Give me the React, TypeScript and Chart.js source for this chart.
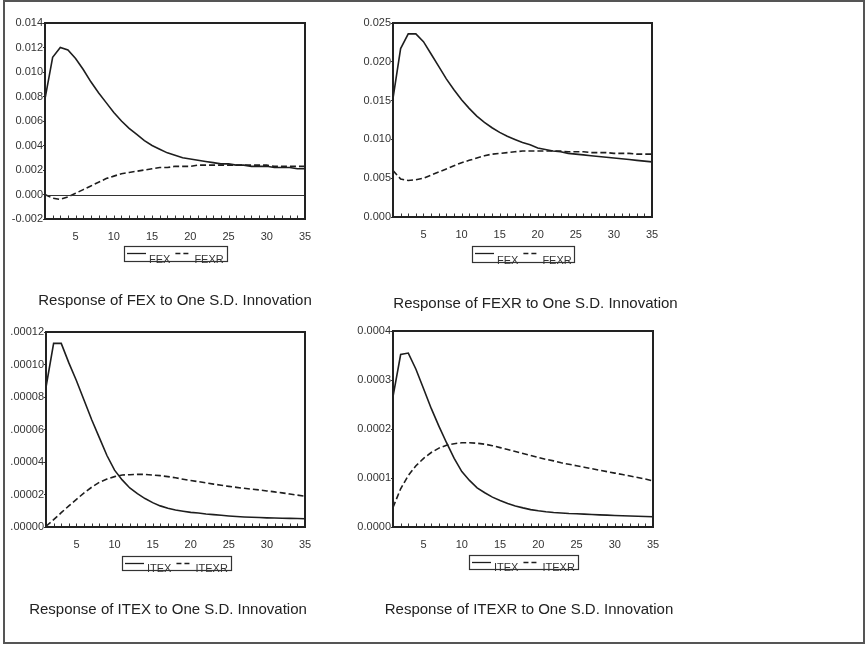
import React, { useEffect, useRef } from "react";
import { Chart, registerables } from "chart.js";

Chart.register(...registerables);

// ---------- data ----------
const periods = [1, 2, 3, 4, 5, 6, 7, 8, 9, 10, 11, 12, 13, 14, 15, 16, 17, 18, 19, 20, 21, 22, 23, 24, 25, 26, 27, 28, 29, 30, 31, 32, 33, 34, 35];
const xTickValues = [5, 10, 15, 20, 25, 30, 35];

// Panel 1: Response of FEX
const fexOnFex = [0.0078, 0.0112, 0.0120, 0.0118, 0.0111, 0.0102, 0.0092, 0.0083, 0.0075, 0.0067, 0.0060, 0.0054, 0.0049, 0.0044, 0.0040, 0.0037, 0.0034, 0.0032, 0.0030, 0.0029, 0.0028, 0.0027, 0.0026, 0.0025, 0.0025, 0.0024, 0.0024, 0.0023, 0.0023, 0.0023, 0.0022, 0.0022, 0.0022, 0.0021, 0.0021];
const fexOnFexr = [0.0000, -0.0003, -0.0004, -0.0002, 0.0001, 0.0004, 0.0007, 0.0010, 0.0013, 0.0015, 0.0017, 0.0018, 0.0019, 0.0020, 0.0021, 0.0022, 0.0022, 0.0023, 0.0023, 0.0023, 0.0024, 0.0024, 0.0024, 0.0024, 0.0024, 0.0024, 0.0024, 0.0024, 0.0024, 0.0024, 0.0023, 0.0023, 0.0023, 0.0023, 0.0023];
const p1YTicks = [-0.002, 0.0, 0.002, 0.004, 0.006, 0.008, 0.010, 0.012, 0.014];
const p1YLabels = ["-0.002", "0.000", "0.002", "0.004", "0.006", "0.008", "0.010", "0.012", "0.014"];

// Panel 2: Response of FEXR
const fexrOnFex = [0.0153, 0.0217, 0.0236, 0.0236, 0.0226, 0.0210, 0.0194, 0.0178, 0.0164, 0.0151, 0.0140, 0.0130, 0.0122, 0.0115, 0.0109, 0.0104, 0.0100, 0.0096, 0.0093, 0.0089, 0.0087, 0.0085, 0.0084, 0.0082, 0.0081, 0.0080, 0.0079, 0.0078, 0.0077, 0.0076, 0.0075, 0.0074, 0.0073, 0.0072, 0.0071];
const fexrOnFexr = [0.0060, 0.0049, 0.0047, 0.0048, 0.0050, 0.0054, 0.0058, 0.0062, 0.0066, 0.0070, 0.0073, 0.0076, 0.0079, 0.0081, 0.0082, 0.0083, 0.0084, 0.0085, 0.0085, 0.0085, 0.0085, 0.0085, 0.0085, 0.0084, 0.0084, 0.0084, 0.0083, 0.0083, 0.0083, 0.0082, 0.0082, 0.0082, 0.0081, 0.0081, 0.0081];
const p2YTicks = [0.0, 0.005, 0.010, 0.015, 0.020, 0.025];
const p2YLabels = ["0.000", "0.005", "0.010", "0.015", "0.020", "0.025"];

// Panel 3: Response of ITEX
const itexOnItex = [0.000086, 0.000113, 0.000113, 0.000101, 0.000090, 0.000078, 0.000066, 0.000055, 0.000044, 0.000035, 0.000029, 0.000024, 0.0000205, 0.0000175, 0.000015, 0.000013, 0.0000115, 0.0000105, 0.0000097, 0.000009, 0.0000086, 0.000008, 0.0000076, 0.0000072, 0.0000068, 0.0000065, 0.0000062, 0.000006, 0.0000058, 0.0000056, 0.0000055, 0.0000054, 0.0000053, 0.0000052, 0.0000051];
const itexOnItexr = [0.0000005, 0.0000045, 0.0000088, 0.000013, 0.000017, 0.000021, 0.0000245, 0.0000275, 0.0000295, 0.000031, 0.000032, 0.0000322, 0.0000324, 0.0000324, 0.000032, 0.0000316, 0.000031, 0.0000303, 0.0000294, 0.0000286, 0.0000279, 0.0000272, 0.0000264, 0.0000257, 0.000025, 0.0000244, 0.0000238, 0.0000233, 0.0000228, 0.0000222, 0.0000216, 0.000021, 0.0000203, 0.0000196, 0.000019];
const p3YTicks = [0.0, 0.00002, 0.00004, 0.00006, 0.00008, 0.0001, 0.00012];
const p3YLabels = [".00000", ".00002", ".00004", ".00006", ".00008", ".00010", ".00012"];

// Panel 4: Response of ITEXR
const itexrOnItex = [0.000266, 0.000352, 0.000355, 0.000322, 0.000282, 0.000242, 0.000206, 0.000172, 0.00014, 0.000113, 0.000095, 0.00008, 0.00007, 0.000061, 0.000054, 0.000048, 0.000043, 0.000039, 0.0000355, 0.000033, 0.000031, 0.0000295, 0.0000285, 0.0000275, 0.000027, 0.0000262, 0.0000255, 0.0000248, 0.0000242, 0.0000236, 0.000023, 0.0000225, 0.000022, 0.0000215, 0.000021];
const itexrOnItexr = [0.00004, 0.000078, 0.000105, 0.000125, 0.00014, 0.000152, 0.000161, 0.000167, 0.00017, 0.000172, 0.000172, 0.000171, 0.000169, 0.000166, 0.000162, 0.000158, 0.000154, 0.00015, 0.000146, 0.000142, 0.000138, 0.000135, 0.000131, 0.000128, 0.000125, 0.000122, 0.000119, 0.000116, 0.000113, 0.00011, 0.000107, 0.000104, 0.000101, 0.000098, 0.000094];
const p4YTicks = [0.0, 0.0001, 0.0002, 0.0003, 0.0004];
const p4YLabels = ["0.0000", "0.0001", "0.0002", "0.0003", "0.0004"];

const seriesNames1 = ["FEX", "FEXR"];
const seriesNames2 = ["ITEX", "ITEXR"];
const titles = [
  "Response of FEX to One S.D. Innovation",
  "Response of FEXR to One S.D. Innovation",
  "Response of ITEX to One S.D. Innovation",
  "Response of ITEXR to One S.D. Innovation",
];

// ---------- layout (page pixels) ----------
const W = 867;
const H = 648;
const X_AXIS_H = 32;
const FONT = "'Liberation Sans', Arial, Helvetica, sans-serif";
const INK = "#1e1e1e";

type Panel = {
  solid: number[];
  dashed: number[];
  names: string[];
  yTicks: number[];
  yLabels: string[];
  title: string;
  area: { l: number; r: number; t: number; b: number };
  legend: { l: number; r: number; t: number; b: number };
  titlePos: { x: number; y: number };
  zeroLine: boolean;
};

const PANELS: Panel[] = [
  {
    solid: fexOnFex, dashed: fexOnFexr, names: seriesNames1, yTicks: p1YTicks, yLabels: p1YLabels, title: titles[0],
    area: { l: 45, r: 305, t: 23, b: 219 }, legend: { l: 124, r: 227, t: 246, b: 261 }, titlePos: { x: 175, y: 300.5 }, zeroLine: true,
  },
  {
    solid: fexrOnFex, dashed: fexrOnFexr, names: seriesNames1, yTicks: p2YTicks, yLabels: p2YLabels, title: titles[1],
    area: { l: 393, r: 652, t: 23, b: 217 }, legend: { l: 472, r: 574, t: 246, b: 262 }, titlePos: { x: 535.5, y: 303.5 }, zeroLine: false,
  },
  {
    solid: itexOnItex, dashed: itexOnItexr, names: seriesNames2, yTicks: p3YTicks, yLabels: p3YLabels, title: titles[2],
    area: { l: 46, r: 305, t: 332, b: 527 }, legend: { l: 122, r: 231, t: 556, b: 570 }, titlePos: { x: 168, y: 609.5 }, zeroLine: false,
  },
  {
    solid: itexrOnItex, dashed: itexrOnItexr, names: seriesNames2, yTicks: p4YTicks, yLabels: p4YLabels, title: titles[3],
    area: { l: 393, r: 653, t: 331, b: 527 }, legend: { l: 469, r: 578, t: 555, b: 569 }, titlePos: { x: 529, y: 609.5 }, zeroLine: false,
  },
];

function makeDecor(p: Panel) {
  return {
    id: "panelDecor",
    afterDatasetsDraw(chart: any) {
      const ctx = chart.ctx as CanvasRenderingContext2D;
      const a = chart.chartArea;
      const xs = chart.scales.x;
      const ys = chart.scales.y;
      ctx.save();
      // zero line
      if (p.zeroLine) {
        const y0 = Math.round(ys.getPixelForValue(0)) + 0.5;
        ctx.strokeStyle = "#333";
        ctx.lineWidth = 1;
        ctx.beginPath();
        ctx.moveTo(a.left, y0);
        ctx.lineTo(a.right, y0);
        ctx.stroke();
      }
      // inner minor ticks on x axis
      ctx.strokeStyle = "#333";
      ctx.lineWidth = 1;
      ctx.beginPath();
      for (const v of periods) {
        const px = Math.round(xs.getPixelForValue(v)) + 0.5;
        ctx.moveTo(px, a.bottom);
        ctx.lineTo(px, a.bottom - 3.5);
      }
      ctx.stroke();
      // plot frame
      ctx.strokeStyle = "#222";
      ctx.lineWidth = 2;
      ctx.strokeRect(a.left, a.top, a.right - a.left, a.bottom - a.top);

      // legend box
      const L = p.legend;
      ctx.strokeStyle = "#333";
      ctx.lineWidth = 1.2;
      ctx.strokeRect(L.l + 0.5, L.t + 0.5, L.r - L.l, L.b - L.t);
      ctx.font = `11px ${FONT}`;
      ctx.fillStyle = "#333";
      ctx.textBaseline = "alphabetic";
      ctx.textAlign = "left";
      const ly = L.t + 7.5;
      ctx.strokeStyle = INK;
      ctx.lineWidth = 1.3;
      ctx.setLineDash([]);
      ctx.beginPath();
      ctx.moveTo(L.l + 3, ly);
      ctx.lineTo(L.l + 22, ly);
      ctx.stroke();
      let x = L.l + 25;
      ctx.fillText(p.names[0], x, L.b + 1.5);
      x += ctx.measureText(p.names[0]).width + 5;
      ctx.setLineDash([5, 3]);
      ctx.beginPath();
      ctx.moveTo(x, ly);
      ctx.lineTo(x + 14, ly);
      ctx.stroke();
      ctx.setLineDash([]);
      x += 19;
      ctx.fillText(p.names[1], x, L.b + 1.5);

      // title
      ctx.font = `15px ${FONT}`;
      ctx.fillStyle = "#222";
      ctx.textAlign = "center";
      ctx.textBaseline = "middle";
      ctx.fillText(p.title, p.titlePos.x, p.titlePos.y);
      ctx.restore();
    },
  };
}

function makeChart(canvas: HTMLCanvasElement, p: Panel) {
  const tickFont = { family: FONT, size: 11 };
  return new Chart(canvas, {
    type: "line",
    data: {
      datasets: [
        {
          label: p.names[0],
          data: periods.map((v, i) => ({ x: v, y: p.solid[i] })),
          borderColor: INK,
          borderWidth: 1.6,
          pointRadius: 0,
          tension: 0,
          fill: false,
        },
        {
          label: p.names[1],
          data: periods.map((v, i) => ({ x: v, y: p.dashed[i] })),
          borderColor: INK,
          borderWidth: 1.6,
          borderDash: [6, 3],
          pointRadius: 0,
          tension: 0,
          fill: false,
        },
      ],
    },
    options: {
      responsive: false,
      animation: false,
      events: [],
      layout: {
        padding: {
          left: 0,
          top: p.area.t,
          right: W - p.area.r,
          bottom: H - p.area.b - X_AXIS_H,
        },
      },
      plugins: {
        legend: { display: false },
        title: { display: false },
        tooltip: { enabled: false },
      },
      scales: {
        x: {
          type: "linear",
          min: 1,
          max: 35,
          afterBuildTicks: (s: any) => {
            s.ticks = xTickValues.map((v) => ({ value: v }));
          },
          afterFit: (s: any) => {
            s.height = X_AXIS_H;
          },
          grid: { display: false },
          border: { display: false },
          ticks: {
            font: tickFont,
            color: "#333",
            padding: 3,
            maxRotation: 0,
            autoSkip: false,
            callback: (v: any) => String(v),
          },
        },
        y: {
          type: "linear",
          min: p.yTicks[0],
          max: p.yTicks[p.yTicks.length - 1],
          afterBuildTicks: (s: any) => {
            s.ticks = p.yTicks.map((v) => ({ value: v }));
          },
          afterFit: (s: any) => {
            s.width = p.area.l;
          },
          grid: { drawOnChartArea: false, drawTicks: true, tickLength: 2, color: "#333" },
          border: { display: false },
          ticks: {
            font: tickFont,
            color: "#333",
            padding: 0,
            autoSkip: false,
            callback: (v: any) => {
              const idx = p.yTicks.findIndex((t) => Math.abs(t - v) < 1e-12);
              return idx >= 0 ? p.yLabels[idx] : "";
            },
          },
        },
      },
    },
    plugins: [makeDecor(p)],
  } as any);
}

export default function App() {
  const r0 = useRef<HTMLCanvasElement>(null);
  const r1 = useRef<HTMLCanvasElement>(null);
  const r2 = useRef<HTMLCanvasElement>(null);
  const r3 = useRef<HTMLCanvasElement>(null);
  const refs = [r0, r1, r2, r3];

  useEffect(() => {
    const charts = PANELS.map((p, i) => makeChart(refs[i].current as HTMLCanvasElement, p));
    return () => charts.forEach((c) => c.destroy());
  }, []);

  return (
    <div style={{ position: "absolute", left: 0, top: 0, width: W, height: H, background: "#fff", overflow: "hidden" }}>
      <div
        style={{
          position: "absolute",
          left: 3,
          top: 0,
          width: 862,
          height: 644,
          boxSizing: "border-box",
          border: "2px solid #555",
        }}
      />
      {refs.map((r, i) => (
        <canvas
          key={i}
          ref={r}
          width={W}
          height={H}
          style={{ position: "absolute", left: 0, top: 0, width: W, height: H }}
        />
      ))}
    </div>
  );
}
